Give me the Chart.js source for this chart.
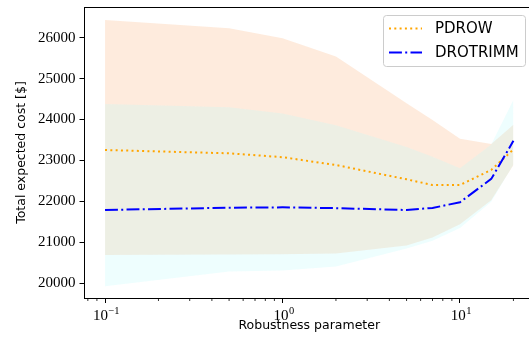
<!DOCTYPE html>
<html>
<head>
<meta charset="utf-8">
<script src="https://cdn.jsdelivr.net/npm/chart.js@4.4.1/dist/chart.umd.min.js"></script>
<style>
  html, body { margin: 0; padding: 0; background: #fff; overflow: hidden; }
  #wrap { width: 535px; height: 350px; }
</style>
</head>
<body>
<div id="wrap"><canvas id="costChart" width="535" height="350"></canvas></div>
<script>
// values
const robustness   = [0.1, 0.5, 1, 2, 5, 7, 10, 15, 20];
const pdrowMean    = [23256, 23175, 23080, 22890, 22540, 22400, 22400, 22770, 23270];
const pdrowLow     = [20690, 20700, 20710, 20730, 20920, 21120, 21440, 22030, 22890];
const pdrowHigh    = [26430, 26230, 25985, 25540, 24400, 23990, 23530, 23400, 23870];
const drotrimmMean = [21790, 21847, 21855, 21835, 21790, 21840, 21980, 22550, 23480];
const drotrimmLow  = [19930, 20285, 20310, 20410, 20850, 21040, 21350, 21990, 22900];
const drotrimmHigh = [24380, 24300, 24150, 23860, 23330, 23090, 22810, 23390, 24480];

const yTicks      = [20000, 21000, 22000, 23000, 24000, 25000, 26000];
const xMajorTicks = [0.1, 1, 10];
const xMinorTicks = [0.08, 0.09, 0.2, 0.3, 0.4, 0.5, 0.6, 0.7, 0.8, 0.9,
                     2, 3, 4, 5, 6, 7, 8, 9, 20];
const xTickLabels = ['\u22121', '0', '1'];   // exponents of 10

const serif = 'Liberation Serif';
const sans  = 'DejaVu Sans';

function pts(ys) {
  return robustness.map((x, i) => ({ x, y: ys[i] }));
}

const band = (data, fill, color, order) => ({
  data: pts(data),
  fill: fill,
  backgroundColor: color,
  borderWidth: 0,
  pointRadius: 0,
  order: order
});

// ── matplotlib-like decorations: top spine, minor ticks, 10^n labels, legend ──
const mplDecor = {
  id: 'mplDecor',
  afterDraw(chart) {
    const { ctx, chartArea: area, scales } = chart;
    const x = scales.x;
    ctx.save();

    // top spine
    ctx.strokeStyle = '#000';
    ctx.lineWidth = 1;
    ctx.beginPath();
    ctx.moveTo(area.left, area.top + 0.5);
    ctx.lineTo(area.right, area.top + 0.5);
    ctx.stroke();

    // minor x ticks
    ctx.lineWidth = 0.8;
    xMinorTicks.forEach(v => {
      const px = x.getPixelForValue(v);
      ctx.beginPath();
      ctx.moveTo(px, area.bottom);
      ctx.lineTo(px, area.bottom + 3);
      ctx.stroke();
    });

    // x tick labels 10^n
    ctx.fillStyle = '#000';
    ctx.textBaseline = 'alphabetic';
    xMajorTicks.forEach((v, i) => {
      const px = x.getPixelForValue(v);
      ctx.font = `15px "${serif}"`;
      const wBase = ctx.measureText('10').width;
      ctx.font = `10.5px "${serif}"`;
      const wExp = ctx.measureText(xTickLabels[i]).width;
      const x0 = px - (wBase + wExp) / 2 + 1;
      ctx.font = `15px "${serif}"`;
      ctx.textAlign = 'left';
      ctx.fillText('10', x0, 320);
      ctx.font = `10.5px "${serif}"`;
      ctx.fillText(xTickLabels[i], x0 + wBase + 0.5, 314);
    });

    // legend
    const bx = 383.5, by = 15.5, bw = 142, bh = 51, r = 3;
    ctx.beginPath();
    ctx.moveTo(bx + r, by);
    ctx.arcTo(bx + bw, by, bx + bw, by + bh, r);
    ctx.arcTo(bx + bw, by + bh, bx, by + bh, r);
    ctx.arcTo(bx, by + bh, bx, by, r);
    ctx.arcTo(bx, by, bx + bw, by, r);
    ctx.closePath();
    ctx.fillStyle = 'rgba(255,255,255,0.8)';
    ctx.fill();
    ctx.strokeStyle = '#cccccc';
    ctx.lineWidth = 1;
    ctx.stroke();

    const entries = chart.data.datasets.filter(d => d.label);
    entries.forEach((d, i) => {
      const yy = 28.5 + i * 24;
      ctx.strokeStyle = d.borderColor;
      ctx.lineWidth = d.borderWidth;
      ctx.setLineDash(d.borderDash || []);
      ctx.beginPath();
      ctx.moveTo(389, yy);
      ctx.lineTo(422, yy);
      ctx.stroke();
      ctx.setLineDash([]);
      ctx.fillStyle = '#000';
      ctx.font = `15px "${sans}"`;
      ctx.textAlign = 'left';
      ctx.textBaseline = 'middle';
      ctx.fillText(d.label, 435, yy + 1);
    });

    ctx.restore();
  }
};

new Chart(document.getElementById('costChart'), {
  type: 'line',
  data: {
    datasets: [
      band(pdrowLow, false, 'transparent', 4),
      band(pdrowHigh, '-1', 'rgba(248,122,28,0.15)', 4),
      band(drotrimmLow, false, 'transparent', 3),
      band(drotrimmHigh, '-1', 'rgba(190,250,250,0.26)', 3),
      {
        label: 'PDROW',
        data: pts(pdrowMean),
        borderColor: '#FFA500',
        borderWidth: 2,
        borderDash: [2, 3.3],
        pointRadius: 0,
        fill: false,
        order: 1
      },
      {
        label: 'DROTRIMM',
        data: pts(drotrimmMean),
        borderColor: '#0000FF',
        borderWidth: 2,
        borderDash: [12.9, 3.3, 2, 3.3],
        pointRadius: 0,
        fill: false,
        order: 0
      }
    ]
  },
  options: {
    responsive: false,
    animation: false,
    layout: { padding: { top: 7, right: 1, bottom: 0, left: 0 } },
    plugins: {
      legend: { display: false },
      tooltip: { enabled: false }
    },
    scales: {
      x: {
        type: 'logarithmic',
        min: 0.07661,
        max: 26.12,
        afterBuildTicks: axis => { axis.ticks = xMajorTicks.map(v => ({ value: v, major: true })); },
        afterFit: axis => { axis.height = 52; axis.paddingLeft = 0; axis.paddingRight = 0; },
        grid: { drawOnChartArea: false, tickLength: 5, tickColor: '#000', tickWidth: 1 },
        border: { color: '#000', width: 1 },
        ticks: { display: false },
        title: {
          display: true,
          text: 'Robustness parameter',
          color: '#000',
          font: { family: sans, size: 12.5 },
          padding: { top: 0, bottom: 16.5 }
        }
      },
      y: {
        type: 'linear',
        min: 19640,
        max: 26750,
        afterBuildTicks: axis => { axis.ticks = yTicks.map(v => ({ value: v })); },
        afterFit: axis => { axis.width = 84.5; axis.paddingTop = 0; axis.paddingBottom = 0; },
        grid: { drawOnChartArea: false, tickLength: 5, tickColor: '#000', tickWidth: 1 },
        border: { color: '#000', width: 1 },
        ticks: {
          color: '#000',
          padding: 4,
          font: { family: serif, size: 15 },
          callback: v => String(v)
        },
        title: {
          display: true,
          text: 'Total expected cost [$]',
          color: '#000',
          font: { family: sans, size: 12.5 },
          padding: { top: 14.5, bottom: 0 }
        }
      }
    }
  },
  plugins: [mplDecor]
});
</script>
</body>
</html>
